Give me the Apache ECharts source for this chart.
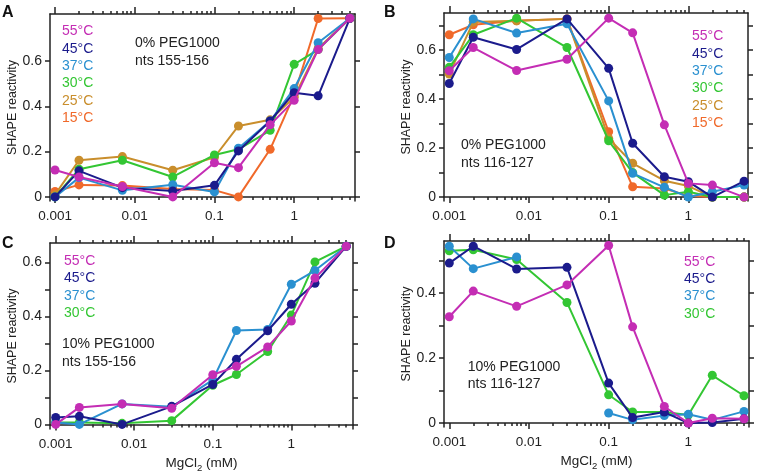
<!DOCTYPE html>
<html><head><meta charset="utf-8">
<script src="https://cdn.jsdelivr.net/npm/echarts@6.0.0/dist/echarts.min.js"></script>
<style>html,body{margin:0;padding:0;background:#fff}#c{width:761px;height:476px}</style>
</head><body><div id="c"></div>
<script>
// ---- data ----
const mgCl2 = [0.001, 0.002, 0.007, 0.03, 0.1, 0.2, 0.5, 1, 2, 5];
const xMajorTicks = [0.001, 0.01, 0.1, 1];
const xMinorTicks = [0.002,0.003,0.004,0.005,0.006,0.007,0.008,0.009,
                     0.02,0.03,0.04,0.05,0.06,0.07,0.08,0.09,
                     0.2,0.3,0.4,0.5,0.6,0.7,0.8,0.9,
                     2,3,4,5];
const tempsAB = ['55°C', '45°C', '37°C', '30°C', '25°C', '15°C'];
const tempsCD = ['55°C', '45°C', '37°C', '30°C'];

const A55 = [0.119, 0.088, 0.046, 0.000, 0.151, 0.129, 0.318, 0.426, 0.650, 0.788];
const A45 = [0.000, 0.115, 0.041, 0.026, 0.051, 0.203, 0.335, 0.460, 0.446, 0.788];
const A37 = [0.000, 0.085, 0.029, 0.054, 0.022, 0.215, 0.335, 0.478, 0.680, 0.788];
const A30 = [0.000, 0.122, 0.162, 0.088, 0.185, 0.210, 0.294, 0.585, 0.650, 0.788];
const A25 = [0.010, 0.162, 0.178, 0.118, 0.175, 0.313, 0.340, 0.440, 0.655, 0.788];
const A15 = [0.024, 0.053, 0.050, 0.035, 0.030, 0.000, 0.210, 0.450, 0.787, 0.788];

const B55 = [0.516, 0.611, 0.517, 0.563, 0.731, 0.671, 0.295, 0.056, 0.049, 0.000];
const B45 = [0.464, 0.653, 0.603, 0.728, 0.526, 0.220, 0.083, 0.063, 0.000, 0.065];
const B37 = [0.570, 0.728, 0.670, 0.708, 0.393, 0.097, 0.040, 0.000, 0.022, 0.049];
const B30 = [0.530, 0.663, 0.731, 0.611, 0.230, 0.100, 0.008, 0.022, 0.000, 0.000];
const B25 = [0.503, 0.715, 0.720, 0.728, 0.240, 0.138, 0.067, 0.045, 0.000, 0.000];
const B15 = [0.663, 0.704, 0.720, 0.728, 0.267, 0.042, 0.035, 0.005, 0.000, 0.000];

const C55 = [0.000, 0.063, 0.076, 0.060, 0.184, 0.215, 0.287, 0.383, 0.542, 0.660];
const C45 = [0.026, 0.030, 0.000, 0.067, 0.148, 0.241, 0.347, 0.445, 0.523, 0.660];
const C37 = [0.007, 0.000, 0.076, 0.065, 0.165, 0.348, 0.352, 0.519, 0.570, 0.660];
const C30 = [0.007, 0.007, 0.004, 0.014, 0.145, 0.185, 0.270, 0.405, 0.602, 0.660];

const D55 = [0.327, 0.406, 0.359, 0.425, 0.546, 0.296, 0.051, 0.000, 0.015, 0.013];
const D45 = [0.492, 0.544, 0.474, 0.479, 0.123, 0.017, 0.034, 0.000, 0.002, 0.013];
const D37 = [0.544, 0.475, 0.511, null,  0.031, 0.010, 0.023, 0.027, 0.010, 0.036];
const D30 = [0.530, 0.533, 0.503, 0.371, 0.087, 0.034, 0.034, 0.025, 0.147, 0.084];

const yTicksA = [0, 0.2, 0.4, 0.6];
const yLabelsA = [0, 0.2, 0.4, 0.6];
const yTicksB = [0, 0.1, 0.2, 0.3, 0.4, 0.5, 0.6, 0.7];
const yLabelsB = [0, 0.2, 0.4, 0.6];
const yTicksC = [0, 0.1, 0.2, 0.3, 0.4, 0.5, 0.6];
const yLabelsC = [0, 0.2, 0.4, 0.6];
const yTicksD = [0, 0.1, 0.2, 0.3, 0.4, 0.5];
const yLabelsD = [0, 0.2, 0.4];

const annotations = {
  A: ['0% PEG1000', 'nts 155-156'],
  B: ['0% PEG1000', 'nts 116-127'],
  C: ['10% PEG1000', 'nts 155-156'],
  D: ['10% PEG1000', 'nts 116-127']
};

// ---- styles ----
const tempColors = {
  '55°C': '#c42db4', '45°C': '#1b1b8c', '37°C': '#2a90d0',
  '30°C': '#33c633', '25°C': '#c98e2c', '15°C': '#f0692a'
};
const ink = '#222';
const FONT = 'Liberation Sans, Arial, sans-serif';

const panels = [
  { key: 'A', grid: {left: 50, top: 14, width: 305, height: 187}, xmin: 0.000865, xmax: 5.8, ymin: -0.018, ymax: 0.807,
    yTicks: yTicksA, yLabels: yLabelsA, temps: tempsAB, series: [A55, A45, A37, A30, A25, A15], xName: false,
    letter: [2, 5], legend: [62, 31.3], note: [135, 43.3] },
  { key: 'B', grid: {left: 444, top: 13, width: 304, height: 188}, xmin: 0.000859, xmax: 5.6, ymin: -0.016, ymax: 0.752,
    yTicks: yTicksB, yLabels: yLabelsB, temps: tempsAB, series: [B55, B45, B37, B30, B25, B15], xName: false,
    letter: [384, 5], legend: [692, 36.3], note: [461, 145] },
  { key: 'C', grid: {left: 50, top: 243, width: 303, height: 186}, xmin: 0.000846, xmax: 6.1, ymin: -0.017, ymax: 0.672,
    yTicks: yTicksC, yLabels: yLabelsC, temps: tempsCD, series: [C55, C45, C37, C30], xName: true,
    letter: [2, 236], legend: [64, 261], note: [62, 344.3] },
  { key: 'D', grid: {left: 444, top: 241, width: 305, height: 186}, xmin: 0.000858, xmax: 5.78, ymin: -0.012, ymax: 0.56,
    yTicks: yTicksD, yLabels: yLabelsD, temps: tempsCD, series: [D55, D45, D37, D30], xName: true,
    letter: [384, 236], legend: [684, 261.7], note: [467.7, 366.7] }
];

const grids = [], xAxes = [], yAxes = [], series = [], graphics = [];
const lineStyle = {color: ink, width: 1.5};

function fmtY(v) { const n = Number(Number(v).toFixed(2)); return n === 0 ? '0' : String(n); }
function fmtX(v) { const n = Number(Number(v).toPrecision(3)); return String(n); }

panels.forEach((p, g) => {
  grids.push(Object.assign({outerBoundsMode: 'none', containLabel: false}, p.grid));
  const xMinor = xMinorTicks.filter(v => v >= p.xmin && v <= p.xmax);
  const base = {type: 'log', logBase: 10, gridIndex: g, min: p.xmin, max: p.xmax, splitLine: {show: false}, minorTick: {show: false}, minorSplitLine: {show: false}};
  const mainX = xAxes.length;
  xAxes.push(Object.assign({}, base, {
    position: 'bottom',
    axisLine: {show: true, lineStyle},
    axisTick: {show: true, inside: false, length: 6, customValues: xMajorTicks, lineStyle},
    axisLabel: {show: true, customValues: xMajorTicks, formatter: fmtX, margin: 8, fontSize: 13.5, color: ink, fontFamily: FONT},
    name: p.xName ? 'MgCl{sub|2} (mM)' : '',
    nameLocation: 'middle', nameGap: 25,
    nameTextStyle: {fontSize: 13.5, color: ink, fontFamily: FONT, rich: {sub: {fontSize: 9.5, color: ink, fontFamily: FONT, padding: [9, 0, 0, 0]}}}
  }));
  xAxes.push(Object.assign({}, base, {
    position: 'bottom', axisLine: {show: false},
    axisTick: {show: true, inside: false, length: 3, customValues: xMinor, lineStyle},
    axisLabel: {show: false}
  }));
  xAxes.push(Object.assign({}, base, {
    position: 'top', axisLine: {show: true, lineStyle},
    axisTick: {show: true, inside: false, length: 7, customValues: xMajorTicks, lineStyle},
    axisLabel: {show: false}
  }));
  xAxes.push(Object.assign({}, base, {
    position: 'top', axisLine: {show: false},
    axisTick: {show: true, inside: false, length: 3, customValues: xMinor, lineStyle},
    axisLabel: {show: false}
  }));
  const mainY = yAxes.length;
  yAxes.push({
    type: 'value', gridIndex: g, position: 'left', min: p.ymin, max: p.ymax,
    splitLine: {show: false},
    axisLine: {show: true, lineStyle},
    axisTick: {show: true, inside: false, length: 5, customValues: p.yTicks, lineStyle},
    axisLabel: {show: true, customValues: p.yLabels, formatter: fmtY, margin: 8, fontSize: 14, color: ink, fontFamily: FONT},
    name: 'SHAPE reactivity', nameLocation: 'middle', nameGap: 30,
    nameTextStyle: {fontSize: 12.5, color: ink, fontFamily: FONT}
  });
  yAxes.push({
    type: 'value', gridIndex: g, position: 'right', min: p.ymin, max: p.ymax,
    splitLine: {show: false},
    axisLine: {show: true, lineStyle},
    axisTick: {show: true, inside: false, length: 5, customValues: p.yTicks, lineStyle},
    axisLabel: {show: false}
  });
  // series, drawn so that the hottest temperature ends on top
  const order = p.temps.map((t, i) => i).reverse();
  order.forEach((i, k) => {
    const t = p.temps[i];
    const vals = p.series[i];
    series.push({
      type: 'line', name: p.key + ' ' + t, xAxisIndex: mainX, yAxisIndex: mainY,
      data: mgCl2.map((x, j) => [x, vals[j] == null ? '-' : vals[j]]),
      connectNulls: false,
      symbol: 'circle', symbolSize: 9, showSymbol: true,
      lineStyle: {color: tempColors[t], width: 2},
      itemStyle: {color: tempColors[t]},
      z: 2 + k, animation: false, emphasis: {disabled: true}
    });
  });
  // panel letter
  graphics.push({type: 'text', left: p.letter[0], top: p.letter[1],
    style: {text: p.key, font: 'bold 16px ' + FONT, fill: '#111'}});
  // temperature legend
  p.temps.forEach((t, i) => {
    graphics.push({type: 'text', x: p.legend[0], y: p.legend[1] + i * 17.4,
      style: {text: t, font: '14px ' + FONT, fill: tempColors[t], verticalAlign: 'middle'}});
  });
  // annotation
  annotations[p.key].forEach((line, i) => {
    graphics.push({type: 'text', x: p.note[0], y: p.note[1] + i * 17.8,
      style: {text: line, font: '14px ' + FONT, fill: ink, verticalAlign: 'middle'}});
  });
});

const chart = echarts.init(document.getElementById('c'), null, {renderer: 'canvas'});
chart.setOption({
  animation: false,
  backgroundColor: '#fff',
  grid: grids, xAxis: xAxes, yAxis: yAxes, series: series,
  graphic: graphics,
  tooltip: {show: false}
});
</script></body></html>
